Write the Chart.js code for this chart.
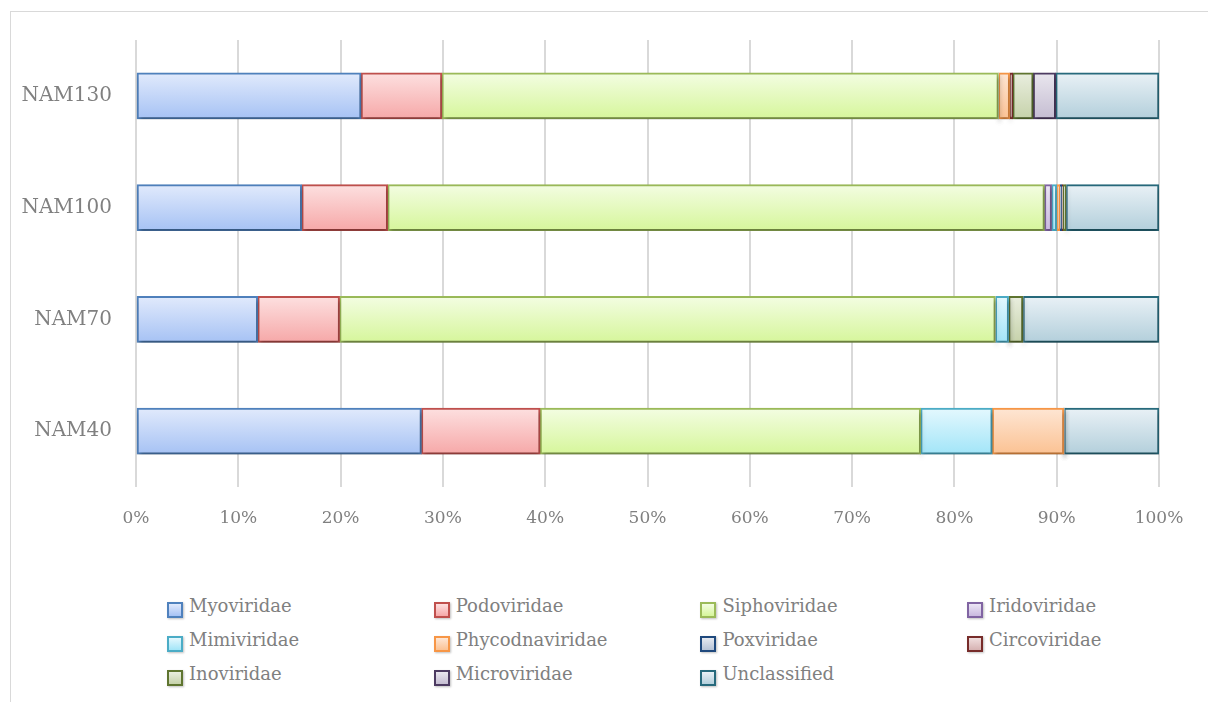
<!DOCTYPE html>
<html>
<head>
<meta charset="utf-8">
<script src="https://cdn.jsdelivr.net/npm/chart.js@4.4.1/dist/chart.umd.min.js"></script>
<style>
    html, body { margin: 0; padding: 0; background: #fff; overflow: hidden; }
    body { width: 1208px; height: 702px; position: relative; font-family: "DejaVu Serif", serif; }
    .frame { position: absolute; left: 10px; top: 11px; width: 1300px; height: 800px; border: 1px solid #d9d9d9; }
    .chart { position: absolute; left: 0; top: 0; width: 1208px; height: 550px; }
    .legend { position: absolute; left: 167px; top: 589px; display: grid; grid-template-columns: repeat(4, 266.7px); grid-auto-rows: 33.7px; }
    .legend-item { display: flex; align-items: center; color: #808080; font-size: 18px; }
    .legend-item .box { width: 12px; height: 12px; border: 2px solid; margin-right: 6px; margin-top: 9px; box-shadow: 1px 1px 2px rgba(0,0,0,0.25); }
</style>
</head>
<body>
<div class="frame"></div>
<div class="chart"><canvas id="viral-families"></canvas></div>
<div class="legend"></div>
<script>
const samples = ["NAM130", "NAM100", "NAM70", "NAM40"];

const myoviridae      = [22.0, 16.2, 11.9, 27.9];
const podoviridae     = [7.9, 8.4, 8.0, 11.6];
const siphoviridae    = [54.4, 64.2, 64.1, 37.2];
const iridoviridae    = [0, 0.7, 0, 0];
const mimiviridae     = [0, 0.5, 1.3, 7.0];
const phycodnaviridae = [1.1, 0.3, 0, 7.0];
const poxviridae      = [0, 0.2, 0, 0];
const circoviridae    = [0.3, 0.1, 0, 0];
const inoviridae      = [2.0, 0.3, 1.4, 0];
const microviridae    = [2.2, 0, 0, 0];
const unclassified    = [10.1, 9.1, 13.3, 9.3];

const percentTicks = [0, 10, 20, 30, 40, 50, 60, 70, 80, 90, 100];

// [label, values, border, gradient top, gradient bottom]
const families = [
    ["Myoviridae", myoviridae, "#4f81bd", "#e1eafc", "#a6c2f4"],
    ["Podoviridae", podoviridae, "#c0504d", "#fde0e0", "#f6a8a8"],
    ["Siphoviridae", siphoviridae, "#9bbb59", "#f3fde2", "#d6f69b"],
    ["Iridoviridae", iridoviridae, "#8064a2", "#ece6f5", "#c9b9df"],
    ["Mimiviridae", mimiviridae, "#4bacc6", "#e4f8fe", "#a2e5f8"],
    ["Phycodnaviridae", phycodnaviridae, "#f79646", "#fee6d4", "#fbc293"],
    ["Poxviridae", poxviridae, "#1f497d", "#e5e9f0", "#b6c3d6"],
    ["Circoviridae", circoviridae, "#772c2a", "#f0dede", "#d6b2b2"],
    ["Inoviridae", inoviridae, "#5f7530", "#e9eedf", "#c6d2aa"],
    ["Microviridae", microviridae, "#4d3b62", "#e9e6ee", "#c5bdd2"],
    ["Unclassified", unclassified, "#276a7c", "#e9f1f6", "#b3cfdb"]
];

const BAR_THICKNESS = 46;

// legend grid, four columns
const legendElem = document.querySelector(".legend");
legendElem.innerHTML = families.map(([label, , border, top, bottom]) =>
    `<div class="legend-item"><span class="box" style="border-color:${border};background:linear-gradient(${top},${bottom})"></span>${label}</div>`
).join("");

function barGradient(top, bottom) {
    return (ctx) => {
        const chart = ctx.chart;
        const yScale = chart.scales.y;
        if (!yScale || ctx.dataIndex === undefined) return bottom;
        const yc = yScale.getPixelForValue(ctx.dataIndex);
        if (!Number.isFinite(yc)) return bottom;
        const g = chart.ctx.createLinearGradient(0, yc - BAR_THICKNESS / 2, 0, yc + BAR_THICKNESS / 2);
        g.addColorStop(0, top);
        g.addColorStop(1, bottom);
        return g;
    };
}

const datasets = families.map(([label, values, border, top, bottom]) => ({
    label: label,
    data: values,
    borderColor: border,
    backgroundColor: barGradient(top, bottom),
    borderWidth: (ctx) => (ctx.raw > 0 ? 2 : 0),
    borderSkipped: false,
    barThickness: BAR_THICKNESS
}));

// soft drop shadow under each bar segment
const barShadow = {
    id: "barShadow",
    beforeDatasetDraw(chart) {
        const c = chart.ctx;
        c.save();
        c.shadowColor = "rgba(0, 0, 0, 0.35)";
        c.shadowBlur = 4;
        c.shadowOffsetX = 1;
        c.shadowOffsetY = 3;
    },
    afterDatasetDraw(chart) {
        chart.ctx.restore();
    }
};

new Chart("viral-families", {
    type: "bar",
    data: { labels: samples, datasets: datasets },
    plugins: [barShadow],
    options: {
        indexAxis: "y",
        responsive: true,
        maintainAspectRatio: false,
        animation: false,
        layout: { padding: { top: 40, right: 49, bottom: 13, left: 0 } },
        plugins: {
            legend: { display: false },
            tooltip: { enabled: false }
        },
        scales: {
            x: {
                stacked: true,
                min: 0,
                max: 100,
                afterBuildTicks: (scale) => { scale.ticks = percentTicks.map(v => ({ value: v })); },
                afterFit: (scale) => { scale.height = 50; },
                border: { display: false },
                grid: { color: "#d9d9d9", lineWidth: 2, drawTicks: false },
                ticks: {
                    color: "#808080",
                    padding: 21,
                    font: { family: "DejaVu Serif", size: 17 },
                    callback: (value) => value + "%"
                }
            },
            y: {
                stacked: true,
                afterFit: (scale) => { scale.width = 136; },
                border: { display: false },
                grid: { display: false, drawTicks: false },
                ticks: {
                    color: "#808080",
                    padding: 24,
                    font: { family: "DejaVu Serif", size: 20 }
                }
            }
        }
    }
});
</script>
</body>
</html>
